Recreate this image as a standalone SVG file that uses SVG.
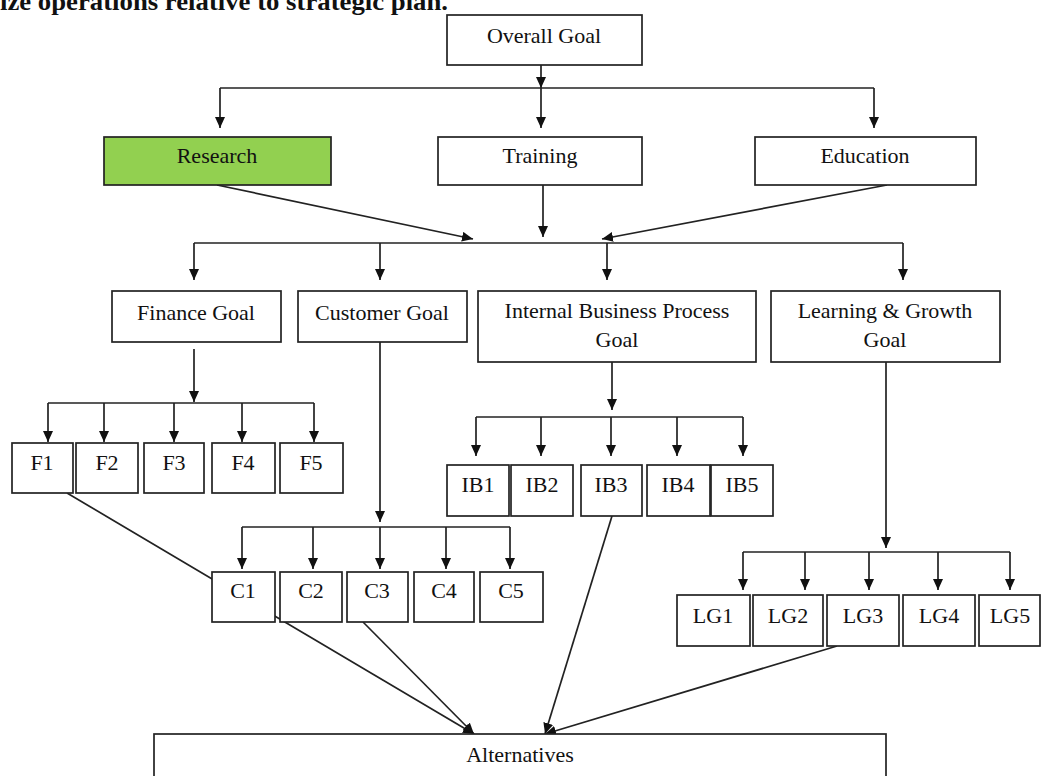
<svg xmlns="http://www.w3.org/2000/svg" width="1041" height="776" viewBox="0 0 1041 776">
<defs>
<marker id="arr" markerUnits="userSpaceOnUse" markerWidth="12" markerHeight="10" refX="11" refY="5" orient="auto">
<path d="M0,0 L11,5 L0,10 z" fill="#111"/>
</marker>
<style>
.box{fill:#fff;stroke:#222;stroke-width:1.7}
.green{fill:#92D050}
.t{font-family:"Liberation Serif","Times New Roman",serif;font-size:22px;fill:#111;text-anchor:middle}
.c path,.c line{fill:none;stroke:#222;stroke-width:1.7}
.a{marker-end:url(#arr)}
.title{font-family:"Liberation Serif","Times New Roman",serif;font-size:26px;font-weight:bold;fill:#111}
</style>
</defs>
<rect width="1041" height="776" fill="#fff"/>
<text class="title" x="0" y="10" textLength="448" lengthAdjust="spacingAndGlyphs">ize operations relative to strategic plan.</text>

<g id="connectors" class="c">
<path class="a" d="M541,65 V88"/>
<path d="M220,88 H874"/>
<path class="a" d="M541,88 V128"/>
<path class="a" d="M220,88 V128"/>
<path class="a" d="M874,88 V128"/>
<path class="a" d="M217,185 L473,239"/>
<path class="a" d="M543,185 V237"/>
<path class="a" d="M887,185 L602,239"/>
<path d="M194,243 H903"/>
<path class="a" d="M194,243 V280"/>
<path class="a" d="M380,243 V280"/>
<path class="a" d="M607,243 V280"/>
<path class="a" d="M903,243 V280"/>
<path class="a" d="M194,349 V402"/>
<path d="M48,403 H314"/>
<path class="a" d="M48,403 V442"/>
<path class="a" d="M104,403 V442"/>
<path class="a" d="M174,403 V442"/>
<path class="a" d="M242,403 V442"/>
<path class="a" d="M314,403 V442"/>
<path class="a" d="M380,342 V522"/>
<path d="M242,527 H510"/>
<path class="a" d="M242,527 V569"/>
<path class="a" d="M313,527 V569"/>
<path class="a" d="M380,527 V569"/>
<path class="a" d="M446,527 V569"/>
<path class="a" d="M510,527 V569"/>
<path class="a" d="M612,362 V410"/>
<path d="M476,417 H743"/>
<path class="a" d="M476,417 V456"/>
<path class="a" d="M541,417 V456"/>
<path class="a" d="M611,417 V456"/>
<path class="a" d="M677,417 V456"/>
<path class="a" d="M743,417 V456"/>
<path class="a" d="M886,362 V548"/>
<path d="M743,552 H1010"/>
<path class="a" d="M743,552 V590"/>
<path class="a" d="M805,552 V590"/>
<path class="a" d="M869,552 V590"/>
<path class="a" d="M938,552 V590"/>
<path class="a" d="M1010,552 V590"/>
<path class="a" d="M67,493 L474,734"/>
<path class="a" d="M363,622 L474,734"/>
<path class="a" d="M612,516 L545,734"/>
<path class="a" d="M837,646 L545,734"/>
</g>

<g id="overall-goal"><rect class="box" x="447" y="15" width="195" height="50"/><text class="t" x="544" y="43">Overall Goal</text></g>
<g id="research"><rect class="box green" x="104" y="137" width="227" height="48"/><text class="t" x="217" y="163">Research</text></g>
<g id="training"><rect class="box" x="438" y="137" width="204" height="48"/><text class="t" x="540" y="163">Training</text></g>
<g id="education"><rect class="box" x="755" y="137" width="221" height="48"/><text class="t" x="865" y="163">Education</text></g>

<g id="finance-goal"><rect class="box" x="112" y="291" width="169" height="51"/><text class="t" x="196" y="320">Finance Goal</text></g>
<g id="customer-goal"><rect class="box" x="298" y="291" width="169" height="51"/><text class="t" x="382" y="320">Customer Goal</text></g>
<g id="internal-business-process-goal"><rect class="box" x="478" y="291" width="278" height="71"/><text class="t" x="617" y="318">Internal Business Process</text><text class="t" x="617" y="347">Goal</text></g>
<g id="learning-growth-goal"><rect class="box" x="771" y="291" width="229" height="71"/><text class="t" x="885" y="318">Learning &amp; Growth</text><text class="t" x="885" y="347">Goal</text></g>

<g id="F1"><rect class="box" x="12" y="443" width="61" height="50"/><text class="t" x="42" y="470">F1</text></g>
<g id="F2"><rect class="box" x="76" y="443" width="62" height="50"/><text class="t" x="107" y="470">F2</text></g>
<g id="F3"><rect class="box" x="144" y="443" width="60" height="50"/><text class="t" x="174" y="470">F3</text></g>
<g id="F4"><rect class="box" x="212" y="443" width="63" height="50"/><text class="t" x="243" y="470">F4</text></g>
<g id="F5"><rect class="box" x="280" y="443" width="63" height="50"/><text class="t" x="311" y="470">F5</text></g>

<g id="IB1"><rect class="box" x="447" y="465" width="62" height="51"/><text class="t" x="478" y="492">IB1</text></g>
<g id="IB2"><rect class="box" x="511" y="465" width="62" height="51"/><text class="t" x="542" y="492">IB2</text></g>
<g id="IB3"><rect class="box" x="581" y="465" width="61" height="51"/><text class="t" x="611" y="492">IB3</text></g>
<g id="IB4"><rect class="box" x="647" y="465" width="63" height="51"/><text class="t" x="678" y="492">IB4</text></g>
<g id="IB5"><rect class="box" x="711" y="465" width="62" height="51"/><text class="t" x="742" y="492">IB5</text></g>

<g id="C1"><rect class="box" x="212" y="572" width="63" height="50"/><text class="t" x="243" y="598">C1</text></g>
<g id="C2"><rect class="box" x="280" y="572" width="62" height="50"/><text class="t" x="311" y="598">C2</text></g>
<g id="C3"><rect class="box" x="347" y="572" width="61" height="50"/><text class="t" x="377" y="598">C3</text></g>
<g id="C4"><rect class="box" x="414" y="572" width="60" height="50"/><text class="t" x="444" y="598">C4</text></g>
<g id="C5"><rect class="box" x="480" y="572" width="63" height="50"/><text class="t" x="511" y="598">C5</text></g>

<g id="LG1"><rect class="box" x="677" y="595" width="73" height="51"/><text class="t" x="713" y="623">LG1</text></g>
<g id="LG2"><rect class="box" x="753" y="595" width="70" height="51"/><text class="t" x="788" y="623">LG2</text></g>
<g id="LG3"><rect class="box" x="827" y="595" width="72" height="51"/><text class="t" x="863" y="623">LG3</text></g>
<g id="LG4"><rect class="box" x="903" y="595" width="72" height="51"/><text class="t" x="939" y="623">LG4</text></g>
<g id="LG5"><rect class="box" x="979" y="595" width="61" height="51"/><text class="t" x="1010" y="623">LG5</text></g>

<g id="alternatives"><rect class="box" x="154" y="734" width="732" height="60"/><text class="t" x="520" y="762">Alternatives</text></g>
</svg>
